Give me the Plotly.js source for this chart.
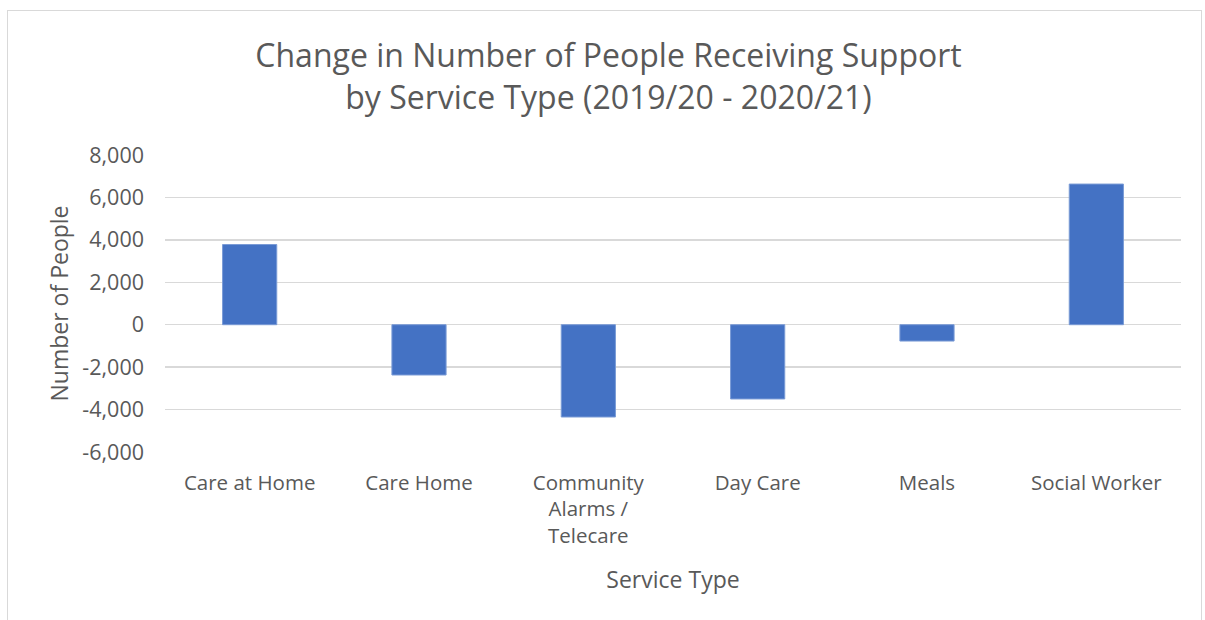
<!DOCTYPE html>
<html>
<head>
<meta charset="utf-8">
<script src="https://cdn.plot.ly/plotly-3.0.1.min.js"></script>
<style>
  html, body { margin: 0; padding: 0; background: #fff; width: 1205px; height: 620px; overflow: hidden; }
  #frame { position: absolute; left: 7px; top: 10px; width: 1195px; height: 640px; border: 1.5px solid #d9d9d9; box-sizing: border-box; }
  #chart { position: absolute; left: 0; top: 0; width: 1205px; height: 620px; }
</style>
</head>
<body>
<div id="frame"></div>
<div id="chart"></div>
<script>
const categories = ["Care at Home", "Care Home", "Community<br>Alarms /<br>Telecare", "Day Care", "Meals", "Social Worker"];
const changeValues = [3780, -2370, -4350, -3500, -770, 6630];
const yTickValues = [-6000, -4000, -2000, 0, 2000, 4000, 6000, 8000];
const yTickLabels = ["-6,000", "-4,000", "-2,000", "0", "2,000", "4,000", "6,000", "8,000"];

const fontFam = "'Open Sans', 'Noto Sans', sans-serif";
const grey = "#595959";

Plotly.newPlot("chart", [{
  type: "bar",
  x: categories,
  y: changeValues,
  marker: { color: "#4472c4", line: { color: "#7a9bd6", width: 1 } },
  hoverinfo: "skip"
}], {
  width: 1205, height: 620,
  paper_bgcolor: "rgba(0,0,0,0)",
  plot_bgcolor: "rgba(0,0,0,0)",
  margin: { l: 165, r: 24, t: 155, b: 168 },
  bargap: 0.68,
  showlegend: false,
  title: {
    text: "Change in Number of People Receiving Support<br>by Service Type (2019/20 - 2020/21)",
    font: { family: fontFam, size: 32, color: grey },
    xref: "container", x: 0.505, xanchor: "center",
    yref: "container", y: 0.892, yanchor: "middle"
  },
  xaxis: {
    type: "category",
    tickfont: { family: fontFam, size: 20.5, color: grey },
    ticks: "", showgrid: false, zeroline: false, showline: false,
    automargin: false,
    ticklabelstandoff: 16,
    title: { text: "Service Type", font: { family: fontFam, size: 23, color: grey }, standoff: 24 }
  },
  yaxis: {
    range: [-6000, 8000],
    tickvals: yTickValues,
    ticktext: yTickLabels,
    tickfont: { family: fontFam, size: 21.5, color: grey },
    ticks: "", ticklen: 0,
    showgrid: true, gridcolor: "#d9d9d9", gridwidth: 1.5,
    zeroline: true, zerolinecolor: "#d9d9d9", zerolinewidth: 1.5,
    showline: false,
    automargin: false,
    ticklabelstandoff: 20,
    title: { text: "Number of People", font: { family: fontFam, size: 23, color: grey }, standoff: 7 }
  }
}, { displayModeBar: false, staticPlot: true });
</script>
</body>
</html>
